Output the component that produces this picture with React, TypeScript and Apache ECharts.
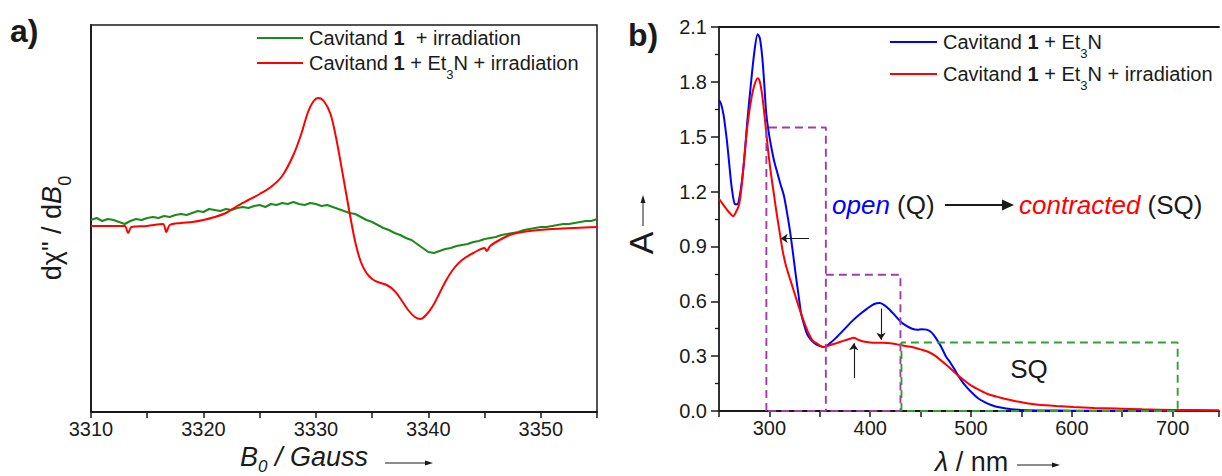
import React, { useEffect, useRef } from "react";
import * as echarts from "echarts";

// ---------- Panel a: EPR spectra (arbitrary units) ----------
const eprFieldGreen = [
  3310, 3310.5, 3311, 3311.5, 3312, 3312.5, 3313, 3313.5, 3314, 3314.5,
  3315, 3315.5, 3316, 3316.5, 3317, 3317.5, 3318, 3318.5, 3319, 3319.5,
  3320, 3320.5, 3321, 3321.5, 3322, 3322.5, 3323, 3323.5, 3324, 3324.5,
  3325, 3325.5, 3326, 3326.5, 3327, 3327.5, 3328, 3328.5, 3329, 3329.5,
  3330, 3330.5, 3331, 3331.5, 3332, 3332.5, 3333, 3333.5, 3334, 3334.5,
  3335, 3335.5, 3336, 3336.5, 3337, 3337.5, 3338, 3338.5, 3339, 3339.5,
  3340, 3340.5, 3341, 3341.5, 3342, 3342.5, 3343, 3343.5, 3344, 3344.5,
  3345, 3345.5, 3346, 3346.5, 3347, 3347.5, 3348, 3348.5, 3349, 3349.5,
  3350, 3350.5, 3351, 3351.5, 3352, 3352.5, 3353, 3353.5, 3354, 3354.5, 3355,
];
const eprGreen = [
  190, 192, 189, 191, 190, 188, 186, 189, 191, 190,
  192, 193, 192, 194, 193, 195, 196, 195, 197, 199,
  198, 201, 200, 199, 201, 200, 202, 203, 202, 204,
  205, 203, 206, 205, 207, 206, 208, 206, 205, 207,
  206, 204, 205, 203, 201, 199, 197, 196, 193, 190,
  188, 185, 182, 180, 177, 175, 172, 170, 166, 162,
  158, 157, 159, 161, 162, 164, 165, 166, 168, 169,
  171, 172, 173, 175, 176, 177, 178, 180, 181, 182,
  183, 183, 184, 185, 186, 186, 187, 188, 189, 189, 191,
];
const eprFieldRed = [
  3310, 3312, 3313, 3313.3, 3313.6, 3315, 3316.4, 3316.7, 3317, 3318,
  3319, 3320, 3321, 3322, 3323, 3324, 3325, 3326, 3327, 3328,
  3328.7, 3329.3, 3329.8, 3330.2, 3330.7, 3331.3, 3331.8, 3332.4, 3333, 3333.5,
  3334, 3334.5, 3335, 3335.5, 3336.3, 3337, 3337.6, 3338.2, 3338.8, 3339.3,
  3339.8, 3340.4, 3341, 3341.6, 3342.3, 3343, 3344, 3345, 3345.2, 3345.5,
  3346.5, 3347.5, 3349, 3351, 3353, 3355,
];
const eprRed = [
  184, 184, 184, 177, 183, 184, 186, 178, 185, 187,
  188, 190, 193, 197, 204, 210, 216, 223, 234, 255,
  276, 298, 309, 312, 309, 296, 272, 235, 197, 168,
  148, 137, 131, 128, 125, 119, 110, 100, 93, 91,
  95, 104, 117, 130, 142, 150, 157, 162, 159, 164,
  171, 176, 179, 181, 182, 183,
];
const eprTickLabels = ["3310", "3320", "3330", "3340", "3350"];

// ---------- Panel b: UV-vis spectra ----------
const uvWlBlue = [
  250, 252, 254.5, 256, 258, 260, 262, 264, 266, 268,
  270, 273, 275.7, 278, 281.5, 285, 288.4, 290.5, 293, 295,
  297, 300, 302.7, 305, 308.5, 311, 314.3, 317, 320, 323,
  326, 329, 331.6, 334.5, 337.4, 341, 345, 350, 354.8, 360,
  366, 374, 381.8, 390, 397, 404, 409.5, 415, 420, 425,
  430, 436, 441.6, 447, 451, 456, 460.8, 465, 470.5, 475,
  480, 485, 490, 495, 501, 507, 513, 520, 528, 540,
  550, 575, 600, 650, 700, 746,
];
const uvAbsBlue = [
  1.70, 1.68, 1.62, 1.56, 1.47, 1.36, 1.25, 1.17, 1.13, 1.13,
  1.16, 1.27, 1.42, 1.58, 1.78, 1.96, 2.06, 2.04, 1.93, 1.78,
  1.62, 1.50, 1.42, 1.36, 1.29, 1.24, 1.18, 1.10, 1.00, 0.88,
  0.75, 0.63, 0.53, 0.47, 0.42, 0.39, 0.37, 0.355, 0.35, 0.37,
  0.40, 0.445, 0.49, 0.53, 0.56, 0.585, 0.59, 0.575, 0.55, 0.52,
  0.49, 0.465, 0.45, 0.445, 0.447, 0.445, 0.43, 0.40, 0.35, 0.30,
  0.26, 0.215, 0.17, 0.135, 0.10, 0.07, 0.05, 0.033, 0.02, 0.01,
  0.006, 0.003, 0.002, 0.001, 0.0, 0.0,
];
const uvWlRed = [
  250, 254, 258, 261, 264, 267, 270, 273, 275.7, 278,
  281.5, 285, 288.4, 290.5, 293, 296, 298.8, 301.5, 304.6, 307.5,
  310.4, 313, 316.2, 320, 324, 328, 331.6, 335.5, 339.3, 343,
  347, 351, 354.8, 360, 366, 374, 380, 383.7, 388, 393.3,
  400, 412.6, 420, 428, 435, 441.6, 450, 459, 465, 470.5,
  476, 482, 488, 493.6, 500, 509, 518, 528.4, 538, 547.6,
  557, 567, 585, 601.6, 622, 644, 670, 702, 746,
];
const uvAbsRed = [
  1.16, 1.13, 1.10, 1.08, 1.065, 1.09, 1.13, 1.26, 1.42, 1.55,
  1.69, 1.78, 1.82, 1.80, 1.72, 1.57, 1.42, 1.30, 1.18, 1.07,
  0.97, 0.88, 0.80, 0.73, 0.66, 0.59, 0.53, 0.47, 0.42, 0.385,
  0.37, 0.355, 0.35, 0.36, 0.37, 0.385, 0.395, 0.40, 0.39, 0.38,
  0.375, 0.373, 0.37, 0.363, 0.355, 0.35, 0.337, 0.32, 0.30, 0.275,
  0.25, 0.22, 0.19, 0.167, 0.14, 0.113, 0.09, 0.074, 0.061, 0.05,
  0.041, 0.034, 0.027, 0.022, 0.017, 0.013, 0.009, 0.006, 0.004,
];
const uvTickLabels = ["300", "400", "500", "600", "700"];
const absTickLabels = ["0.0", "0.3", "0.6", "0.9", "1.2", "1.5", "1.8", "2.1"];

// dashed regions (nm start, nm end, absorbance top)
const boxStartNm = [297, 356, 431];
const boxEndNm = [356, 430, 705];
const boxTopA = [1.55, 0.745, 0.375];

// change arrows (from -> to, in nm / absorbance)
const arrowFromNm = [339.4, 410.7, 383.7];
const arrowFromA = [0.944, 0.56, 0.18];
const arrowToNm = [311.2, 410.7, 383.7];
const arrowToA = [0.944, 0.39, 0.37];

const F = "'Liberation Sans', Arial, Helvetica, sans-serif";
const INK = "#1a1a1a";
const GREEN = "#1b8a1b";
const RED = "#ff0000";
const BLUE = "#0000ff";
const PURPLE = "#a23ca6";
const DGREEN = "#33a033";
const boxColors = [PURPLE, PURPLE, DGREEN];

const zip = (xs: number[], ys: number[]) => xs.map((x, i) => [x, ys[i]]);

const legendRich = {
  n: { fontSize: 20, fontFamily: F, fill: INK, color: INK, lineHeight: 36 },
  b: { fontSize: 20, fontFamily: F, fontWeight: "bold", fill: INK, color: INK, lineHeight: 36 },
  s: { fontSize: 13, fontFamily: F, fill: INK, color: INK, lineHeight: 13, verticalAlign: "bottom" },
};

function arrowHead(x: number, y: number, dir: "right" | "up", len = 9, half = 3.5) {
  const pts =
    dir === "right"
      ? [[x - len, y - half], [x, y], [x - len, y + half]]
      : [[x - half, y + len], [x, y], [x + half, y + len]];
  return { type: "polygon", shape: { points: pts }, style: { fill: INK } };
}

export default function App() {
  const ref = useRef<HTMLDivElement>(null);

  useEffect(() => {
    if (!ref.current) return;
    const chart = echarts.init(ref.current, undefined, { renderer: "svg" });

    const axisLineStyle = { color: INK, width: 1.8 };
    const labelBase = { fontSize: 20, fontFamily: F, color: INK };

    const boxSeries = boxStartNm.map((s, i) => {
      const e = boxEndNm[i];
      const t = boxTopA[i];
      // when a box shares its left edge with the previous box, do not draw it twice
      const sharedLeft = i > 0 && boxEndNm[i - 1] === s;
      const data = sharedLeft
        ? [[s, t], [e, t], [e, 0], [s, 0]]
        : [[s, 0], [s, t], [e, t], [e, 0], [s, 0]];
      return {
        type: "line",
        xAxisIndex: 1,
        yAxisIndex: 1,
        showSymbol: false,
        symbol: "none",
        silent: true,
        z: 3,
        lineStyle: { color: boxColors[i], width: 1.9, type: [8, 5] },
        data,
      };
    });

    const option: any = {
      animation: false,
      backgroundColor: "#ffffff",
      grid: [
        { left: 91, top: 25, width: 506, height: 387, show: true, borderColor: INK, borderWidth: 1.5 },
        { left: 719, top: 27, width: 503, height: 384 },
      ],
      xAxis: [
        {
          type: "value",
          gridIndex: 0,
          min: 3310,
          max: 3355,
          interval: 5,
          axisLine: { show: true, onZero: false, lineStyle: axisLineStyle },
          axisTick: { show: true, inside: false, length: 6, lineStyle: { color: INK, width: 1.5 } },
          axisLabel: {
            ...labelBase,
            margin: 7,
            formatter: (v: number) => (eprTickLabels.includes(String(v)) ? String(v) : ""),
          },
          splitLine: { show: false },
        },
        {
          type: "value",
          gridIndex: 1,
          min: 250,
          max: 746,
          interval: 50,
          axisLine: { show: true, onZero: false, lineStyle: axisLineStyle },
          axisTick: { show: true, inside: false, length: 6, lineStyle: { color: INK, width: 1.5 } },
          axisLabel: {
            ...labelBase,
            margin: 7,
            formatter: (v: number) => (uvTickLabels.includes(String(v)) ? String(v) : ""),
          },
          splitLine: { show: false },
        },
        {
          type: "value",
          gridIndex: 1,
          position: "top",
          min: 250,
          max: 746,
          axisLine: { show: true, onZero: false, lineStyle: axisLineStyle },
          axisTick: { show: false },
          axisLabel: { show: false },
          splitLine: { show: false },
        },
      ],
      yAxis: [
        {
          type: "value",
          gridIndex: 0,
          min: -2,
          max: 385,
          axisLine: { show: true, onZero: false, lineStyle: axisLineStyle },
          axisTick: { show: false },
          axisLabel: { show: false },
          splitLine: { show: false },
        },
        {
          type: "value",
          gridIndex: 1,
          min: 0,
          max: 2.1,
          interval: 0.3,
          axisLine: { show: true, onZero: false, lineStyle: axisLineStyle },
          axisTick: { show: true, inside: false, length: 8, lineStyle: { color: INK, width: 1.5 } },
          minorTick: { show: true, splitNumber: 2, length: 4, lineStyle: { color: INK, width: 1.3 } },
          axisLabel: {
            ...labelBase,
            margin: 12,
            formatter: (v: number) => {
              const s = v.toFixed(1);
              return absTickLabels.includes(s) ? s : "";
            },
          },
          splitLine: { show: false },
          minorSplitLine: { show: false },
        },
      ],
      series: [
        {
          type: "line",
          xAxisIndex: 0,
          yAxisIndex: 0,
          showSymbol: false,
          symbol: "none",
          lineStyle: { color: GREEN, width: 2 },
          data: zip(eprFieldGreen, eprGreen),
          z: 2,
        },
        {
          type: "line",
          xAxisIndex: 0,
          yAxisIndex: 0,
          showSymbol: false,
          symbol: "none",
          smooth: 0.3,
          lineStyle: { color: RED, width: 2 },
          data: zip(eprFieldRed, eprRed),
          z: 3,
        },
        {
          type: "line",
          xAxisIndex: 1,
          yAxisIndex: 1,
          showSymbol: false,
          symbol: "none",
          smooth: 0.3,
          lineStyle: { color: BLUE, width: 2 },
          data: zip(uvWlBlue, uvAbsBlue),
          z: 2,
        },
        {
          type: "line",
          xAxisIndex: 1,
          yAxisIndex: 1,
          showSymbol: false,
          symbol: "none",
          smooth: 0.3,
          lineStyle: { color: RED, width: 2 },
          data: zip(uvWlRed, uvAbsRed),
          z: 2,
        },
        ...boxSeries,
        {
          type: "lines",
          coordinateSystem: "cartesian2d",
          xAxisIndex: 1,
          yAxisIndex: 1,
          symbol: ["none", "arrow"],
          symbolSize: 7,
          silent: true,
          z: 4,
          lineStyle: { color: INK, width: 1.1, opacity: 1 },
          data: arrowFromNm.map((x, i) => ({
            coords: [
              [x, arrowFromA[i]],
              [arrowToNm[i], arrowToA[i]],
            ],
          })),
        },
      ],
      graphic: [
        // panel labels
        { type: "text", x: 10, y: 31, style: { text: "a)", font: `bold 32px ${F}`, fill: INK, verticalAlign: "middle" } },
        { type: "text", x: 628, y: 35, style: { text: "b)", font: `bold 32px ${F}`, fill: INK, verticalAlign: "middle" } },
        // legend a
        { type: "line", shape: { x1: 257, y1: 38, x2: 303, y2: 38 }, style: { stroke: GREEN, lineWidth: 2 } },
        {
          type: "text",
          x: 309,
          y: 38,
          style: { text: "{n|Cavitand }{b|1}{n|  + irradiation}", rich: legendRich, verticalAlign: "middle", align: "left" },
        },
        { type: "line", shape: { x1: 257, y1: 63, x2: 303, y2: 63 }, style: { stroke: RED, lineWidth: 2 } },
        {
          type: "text",
          x: 309,
          y: 63,
          style: {
            text: "{n|Cavitand }{b|1}{n| + Et}{s|3}{n|N + irradiation}",
            rich: legendRich,
            verticalAlign: "middle",
            align: "left",
          },
        },
        // legend b
        { type: "line", shape: { x1: 890, y1: 42, x2: 937, y2: 42 }, style: { stroke: BLUE, lineWidth: 2 } },
        {
          type: "text",
          x: 943,
          y: 42,
          style: { text: "{n|Cavitand }{b|1}{n| + Et}{s|3}{n|N}", rich: legendRich, verticalAlign: "middle", align: "left" },
        },
        { type: "line", shape: { x1: 890, y1: 74, x2: 937, y2: 74 }, style: { stroke: RED, lineWidth: 2 } },
        {
          type: "text",
          x: 943,
          y: 74,
          style: {
            text: "{n|Cavitand }{b|1}{n| + Et}{s|3}{n|N + irradiation}",
            rich: legendRich,
            verticalAlign: "middle",
            align: "left",
          },
        },
        // axis title a (x)
        {
          type: "text",
          x: 240,
          y: 457,
          style: {
            text: "{i|B}{s|0}{i| / Gauss}",
            verticalAlign: "middle",
            align: "left",
            rich: {
              i: { fontSize: 27, fontStyle: "italic", fontFamily: F, fill: INK, color: INK, lineHeight: 35 },
              s: { fontSize: 17, fontStyle: "italic", fontFamily: F, fill: INK, color: INK, lineHeight: 17, verticalAlign: "bottom" },
            },
          },
        },
        { type: "line", shape: { x1: 385, y1: 463, x2: 426, y2: 463 }, style: { stroke: INK, lineWidth: 1 } },
        arrowHead(433, 463, "right", 8, 2.5),
        // axis title a (y)
        {
          type: "text",
          x: 52,
          y: 228,
          rotation: Math.PI / 2,
          style: {
            text: '{n|dχ" / d}{i|B}{s|0}',
            verticalAlign: "middle",
            align: "center",
            rich: {
              n: { fontSize: 27, fontFamily: F, fill: INK, color: INK, lineHeight: 43 },
              i: { fontSize: 27, fontStyle: "italic", fontFamily: F, fill: INK, color: INK, lineHeight: 43 },
              s: { fontSize: 18, fontFamily: F, fill: INK, color: INK, lineHeight: 18, verticalAlign: "bottom" },
            },
          },
        },
        // axis title b (x)
        {
          type: "text",
          x: 935,
          y: 462,
          style: {
            text: "{i|λ}{n| / nm}",
            verticalAlign: "middle",
            align: "left",
            rich: {
              i: { fontSize: 27, fontStyle: "italic", fontFamily: F, fill: INK, color: INK },
              n: { fontSize: 27, fontFamily: F, fill: INK, color: INK },
            },
          },
        },
        { type: "line", shape: { x1: 1017, y1: 465, x2: 1053, y2: 465 }, style: { stroke: INK, lineWidth: 1 } },
        arrowHead(1060, 465, "right", 8, 2.5),
        // axis title b (y)
        {
          type: "text",
          x: 641,
          y: 243,
          rotation: Math.PI / 2,
          style: { text: "A", font: `34px ${F}`, fill: INK, verticalAlign: "middle", align: "center" },
        },
        { type: "line", shape: { x1: 643, y1: 226, x2: 643, y2: 202 }, style: { stroke: INK, lineWidth: 1 } },
        arrowHead(643, 195, "up", 8, 2.5),
        // open -> contracted annotation
        {
          type: "text",
          x: 832,
          y: 205,
          style: {
            text: "{o|open}{k| (Q)}",
            verticalAlign: "middle",
            align: "left",
            rich: {
              o: { fontSize: 26, fontStyle: "italic", fontFamily: F, fill: BLUE, color: BLUE },
              k: { fontSize: 26, fontFamily: F, fill: INK, color: INK },
            },
          },
        },
        { type: "line", shape: { x1: 945, y1: 205, x2: 1003, y2: 205 }, style: { stroke: INK, lineWidth: 1.8 } },
        arrowHead(1014, 205, "right", 12, 5.5),
        {
          type: "text",
          x: 1019,
          y: 205,
          style: {
            text: "{c|contracted}{k| (SQ)}",
            verticalAlign: "middle",
            align: "left",
            rich: {
              c: { fontSize: 26, fontStyle: "italic", fontFamily: F, fill: RED, color: RED },
              k: { fontSize: 26, fontFamily: F, fill: INK, color: INK },
            },
          },
        },
        {
          type: "text",
          x: 1029,
          y: 369,
          style: { text: "SQ", font: `26px ${F}`, fill: INK, verticalAlign: "middle", align: "center" },
        },
      ],
    };

    chart.setOption(option);
    return () => chart.dispose();
  }, []);

  return (
    <div
      ref={ref}
      style={{ position: "fixed", left: 0, top: 0, width: 1222, height: 476, background: "#fff" }}
    />
  );
}
